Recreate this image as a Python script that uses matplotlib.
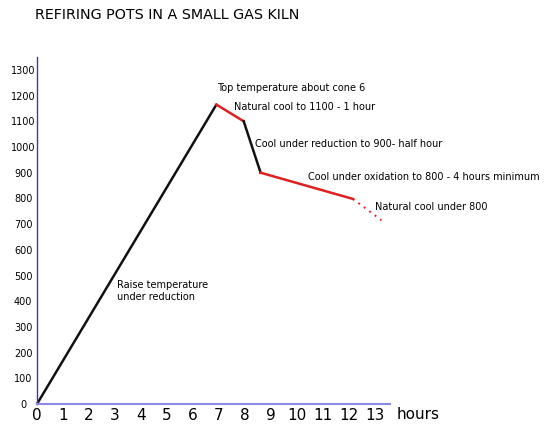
import matplotlib
matplotlib.use("Agg")
import matplotlib.pyplot as plt

# Data (hours, temperature)
raise_h = [0, 6.9]
raise_t = [0, 1165]
natcool_h = [6.9, 7.95]
natcool_t = [1165, 1100]
red_h = [7.95, 8.6]
red_t = [1100, 900]
oxid_h = [8.6, 12.15]
oxid_t = [900, 798]
final_h = [12.15, 13.25]
final_t = [798, 715]

x_ticks = list(range(0, 14))
y_ticks = list(range(0, 1400, 100))

title = "REFIRING POTS IN A SMALL GAS KILN"

fig = plt.figure(figsize=(5.5, 4.32), dpi=100)
W, H = 550, 432
ax_l, ax_r, ax_t, ax_b = 37, 390, 57, 404
ax = fig.add_axes([ax_l / W, 1 - ax_b / H, (ax_r - ax_l) / W, (ax_b - ax_t) / H])
ax.set_xlim(0, (ax_r - ax_l) / 26.0)
ax.set_ylim(0, (ax_b - ax_t) / 25.7 * 100)

for s in ["top", "right"]:
    ax.spines[s].set_visible(False)
ax.spines["left"].set_color("#3a3ab8")
ax.spines["left"].set_linewidth(1.0)
ax.spines["bottom"].set_color("#8a8ae0")
ax.spines["bottom"].set_linewidth(1.5)

black = "#111111"
red = "#e02020"
ax.plot(raise_h, raise_t, color=black, lw=1.8, solid_capstyle="round", clip_on=False)
ax.plot(natcool_h, natcool_t, color=red, lw=1.8, clip_on=False)
ax.plot(red_h, red_t, color=black, lw=1.8, clip_on=False)
ax.plot(oxid_h, oxid_t, color=red, lw=1.8, clip_on=False)
ax.plot(final_h, final_t, color=red, lw=1.4, linestyle=(0, (1, 2.5)), clip_on=False)

ax.set_xticks(x_ticks)
ax.set_xticklabels([str(v) for v in x_ticks], fontsize=11)
ax.set_yticks(y_ticks)
ax.set_yticklabels([str(v) for v in y_ticks], fontsize=7)
for lab in ax.get_yticklabels():
    lab.set_horizontalalignment("center")
ax.tick_params(axis="x", length=0, pad=3)
ax.tick_params(axis="y", length=0, pad=10)

ax.text(13.85, -12, "hours", fontsize=11, ha="left", va="top", clip_on=False)

fig.text(35 / W, 1 - 15 / H, title, fontsize=10.3, ha="left", va="center")

ann = dict(fontsize=7, ha="left", va="center", clip_on=False)
ax.text(6.92, 1230, "Top temperature about cone 6", **ann)
ax.text(7.58, 1156, "Natural cool to 1100 - 1 hour", **ann)
ax.text(8.38, 1012, "Cool under reduction to 900- half hour", **ann)
ax.text(10.42, 883, "Cool under oxidation to 800 - 4 hours minimum", **ann)
ax.text(13.0, 767, "Natural cool under 800", **ann)
ax.text(3.08, 440, "Raise temperature\nunder reduction", fontsize=7, ha="left",
        va="center", linespacing=1.2)

fig.savefig("out.png", dpi=100)
